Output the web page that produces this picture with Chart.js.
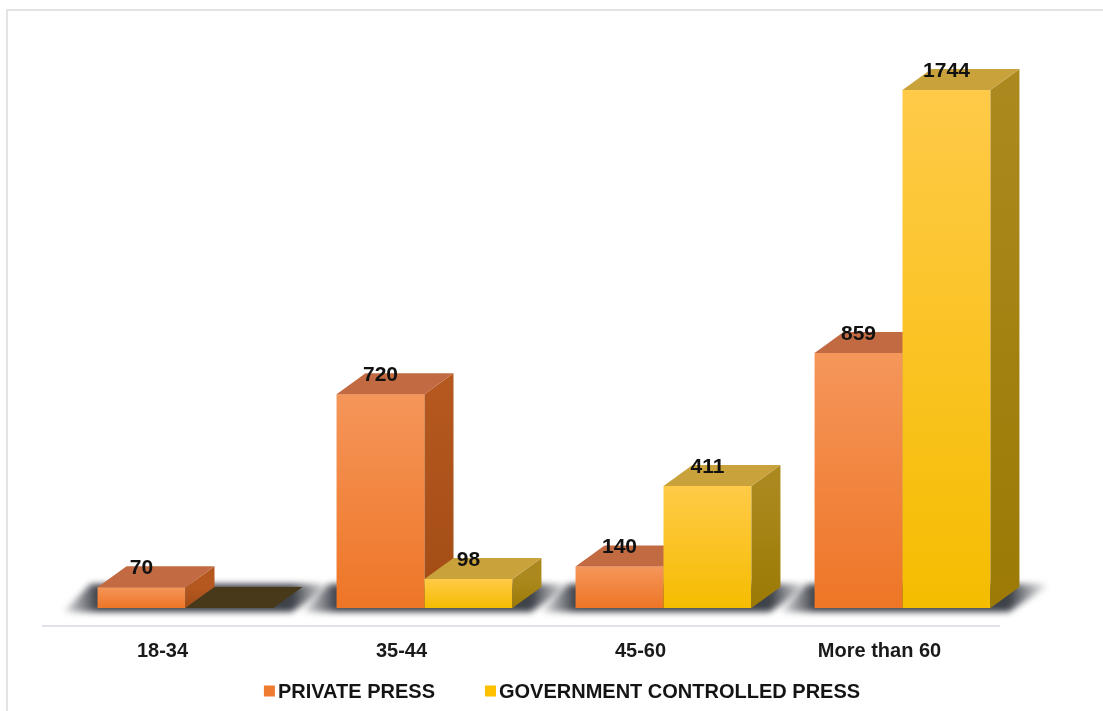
<!DOCTYPE html>
<html>
<head>
<meta charset="utf-8">
<script src="https://cdn.jsdelivr.net/npm/chart.js@4.4.1/dist/chart.umd.min.js"></script>
<style>
  html, body { margin: 0; padding: 0; background: #fff; }
</style>
</head>
<body>
<canvas id="grafica" width="1103" height="711"></canvas>
<script>
// Datos por grupo de edad
const edades = ['18-34', '35-44', '45-60', 'More than 60'];
const prensaPrivada = [70, 720, 140, 859];
const prensaGobierno = [0, 98, 411, 1744];
const nombresSeries = ['PRIVATE PRESS', 'GOVERNMENT CONTROLLED PRESS'];

const FUENTE = '"Liberation Sans", Arial, sans-serif';
// profundidad del efecto 3D (px)
const PROF_X = 29;
const PROF_Y = -21;

// colores de cada serie: frente (arriba/abajo), cara superior, cara lateral
const colores = [
  { frenteA: '#f5965a', frenteB: '#ee7526', arriba: '#c26a42', ladoA: '#b4581f', ladoB: '#a24c15', leyenda: '#ef7b30' },
  { frenteA: '#ffca48', frenteB: '#f5bd00', arriba: '#c9a23c', ladoA: '#ab891e', ladoB: '#9c7a05', leyenda: '#ffc000' }
];

function poligono(ctx, puntos) {
  ctx.beginPath();
  ctx.moveTo(puntos[0][0], puntos[0][1]);
  for (let k = 1; k < puntos.length; k++) ctx.lineTo(puntos[k][0], puntos[k][1]);
  ctx.closePath();
  ctx.fill();
}

// Plugin que dibuja las barras con caras superior y lateral
const barras3d = {
  id: 'barras3d',
  beforeDraw(chart) {
    const ctx = chart.ctx;
    ctx.save();
    ctx.strokeStyle = '#e3e3e3';
    ctx.lineWidth = 2;
    ctx.strokeRect(7, 10, chart.width + 20, chart.height + 20);
    ctx.restore();
  },
  beforeDatasetsDraw(chart) {
    const ctx = chart.ctx;
    const area = chart.chartArea;
    const metas = [chart.getDatasetMeta(0), chart.getDatasetMeta(1)];

    // linea del piso
    ctx.save();
    ctx.strokeStyle = '#e0e4ea';
    ctx.lineWidth = 2;
    ctx.beginPath();
    ctx.moveTo(area.left - 24, area.bottom + 18);
    ctx.lineTo(area.right - 22, area.bottom + 18);
    ctx.stroke();
    ctx.restore();

    // sombra de cada grupo en el piso
    edades.forEach((_, i) => {
      const a = metas[0].data[i].getProps(['x', 'width', 'base'], true);
      const b = metas[1].data[i].getProps(['x', 'width'], true);
      const izq = a.x - a.width / 2;
      const der = b.x + b.width / 2;
      const base = a.base;
      const g = ctx.createLinearGradient(izq - 40, 0, der + PROF_X + 30, 0);
      const n = (der + PROF_X + 70 - izq);
      g.addColorStop(0, 'rgba(60,64,72,0)');
      g.addColorStop(40 / n, 'rgba(52,56,64,0.95)');
      g.addColorStop(1 - 40 / n, 'rgba(52,56,64,0.95)');
      g.addColorStop(1, 'rgba(60,64,72,0)');
      ctx.save();
      ctx.filter = 'blur(3px)';
      ctx.fillStyle = g;
      poligono(ctx, [
        [izq - 34, base + 4],
        [der + 18, base + 4],
        [der + PROF_X + 32, base + PROF_Y - 3],
        [izq + PROF_X - 36, base + PROF_Y - 3]
      ]);
      ctx.restore();
    });

    // barras: privada primero, luego gobierno, por grupo
    edades.forEach((_, i) => {
      metas.forEach((meta, d) => {
        const { x, y, base, width } = meta.data[i].getProps(['x', 'y', 'base', 'width'], true);
        const l = x - width / 2;
        const r = x + width / 2;
        const c = colores[d];
        const alto = base - y;
        ctx.save();
        if (alto > 0.5) {
          const g = ctx.createLinearGradient(0, y, 0, base);
          g.addColorStop(0, c.frenteA);
          g.addColorStop(1, c.frenteB);
          ctx.fillStyle = g;
          ctx.fillRect(l, y, width, alto);

          const gl = ctx.createLinearGradient(0, y, 0, base);
          gl.addColorStop(0, c.ladoA);
          gl.addColorStop(1, c.ladoB);
          ctx.fillStyle = gl;
          poligono(ctx, [[r, y], [r + PROF_X, y + PROF_Y], [r + PROF_X, base + PROF_Y], [r, base]]);
        }
        ctx.fillStyle = alto > 0.5 ? c.arriba : '#48391b';
        poligono(ctx, [[l, y], [r, y], [r + PROF_X, y + PROF_Y], [l + PROF_X, y + PROF_Y]]);
        ctx.restore();
      });
    });

    // etiquetas de valor
    ctx.save();
    ctx.font = 'bold 21px ' + FUENTE;
    ctx.fillStyle = '#111';
    ctx.textAlign = 'center';
    ctx.textBaseline = 'middle';
    metas.forEach((meta, d) => {
      const valores = chart.data.datasets[d].data;
      meta.data.forEach((bar, i) => {
        if (!valores[i]) return;
        const { x, y } = bar.getProps(['x', 'y'], true);
        ctx.fillText(String(valores[i]), x, y - 19);
      });
    });
    ctx.restore();
    return false;
  },
  afterDraw(chart) {
    // leyenda
    const ctx = chart.ctx;
    ctx.save();
    ctx.font = 'bold 20px ' + FUENTE;
    ctx.textBaseline = 'middle';
    const caja = 11, hueco = 3, sep = 50;
    const anchos = chart.data.datasets.map(ds => ctx.measureText(ds.label).width);
    const total = anchos.reduce((s, w) => s + caja + hueco + w, 0) + sep * (anchos.length - 1);
    let x = 562 - total / 2;
    const yc = 691;
    chart.data.datasets.forEach((ds, d) => {
      ctx.fillStyle = colores[d].leyenda;
      ctx.fillRect(x, yc - caja / 2, caja, caja);
      ctx.fillStyle = '#141414';
      ctx.fillText(ds.label, x + caja + hueco, yc + 1);
      x += caja + hueco + anchos[d] + sep;
    });
    ctx.restore();
  }
};

const grafica = new Chart(document.getElementById('grafica'), {
  type: 'bar',
  data: {
    labels: edades,
    datasets: [
      { label: nombresSeries[0], data: prensaPrivada, backgroundColor: colores[0].leyenda },
      { label: nombresSeries[1], data: prensaGobierno, backgroundColor: colores[1].leyenda }
    ]
  },
  options: {
    responsive: false,
    animation: false,
    categoryPercentage: 0.736,
    barPercentage: 1,
    layout: { padding: { left: 66, right: 81, top: 14, bottom: 0 } },
    plugins: {
      legend: { display: false },
      tooltip: { enabled: false }
    },
    scales: {
      x: {
        grid: { display: false, drawTicks: false },
        border: { display: false },
        ticks: {
          color: '#1a1a1a',
          font: { family: FUENTE, size: 20, weight: 'bold' },
          padding: 31,
          labelOffset: -23,
          maxRotation: 0,
          autoSkip: false
        },
        afterFit(scale) { scale.height = 103; }
      },
      y: { display: false, min: 0, max: 2000 }
    }
  },
  plugins: [barras3d]
});
</script>
</body>
</html>
